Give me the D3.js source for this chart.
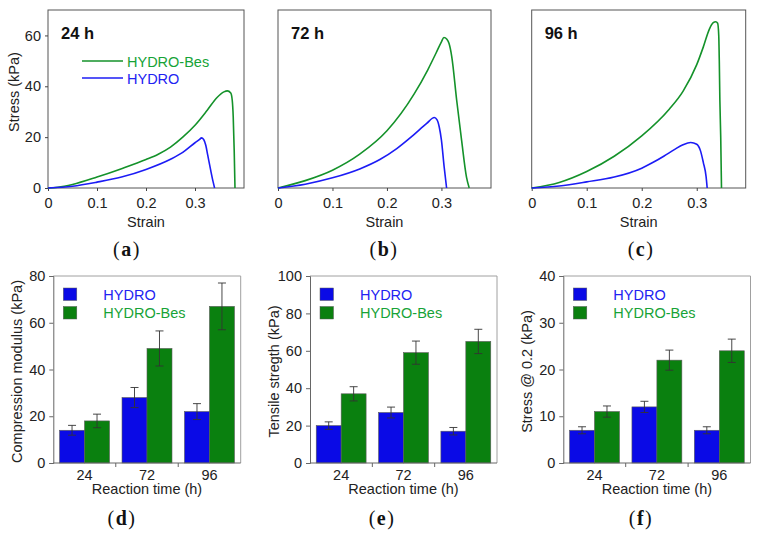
<!DOCTYPE html>
<html><head><meta charset="utf-8">
<script src="https://cdn.jsdelivr.net/npm/d3@7"></script>
<style>body{margin:0;background:#fff}svg{display:block}</style>
</head><body><svg id="c" width="758" height="534"></svg>
<script>
// ---------- data ----------
const seriesNames = ["HYDRO", "HYDRO-Bes"];
const strainTicks = [0, 0.1, 0.2, 0.3];
const stressTicks = [0, 20, 40, 60];

const strain24Bes = [0,0.02,0.05,0.1,0.15,0.2,0.225,0.25,0.275,0.3,0.325,0.345,0.359,0.366,0.373,0.376,0.378,0.38,0.3816];
const stress24Bes = [0,0.3,1.4,4.3,7.6,11.2,13.3,16.1,20,24.7,30.6,35.6,37.8,38.2,37.4,34.5,28,14.8,0];
const strain24Hydro = [0,0.05,0.1,0.15,0.2,0.25,0.275,0.3,0.31,0.313,0.318,0.322,0.326,0.332,0.337,0.34];
const stress24Hydro = [0,0.7,2.3,4.3,7.3,11.3,14,17.8,19.2,19.7,19,16.8,12.9,7,2.4,0];

const strain72Bes = [0,0.05,0.1,0.15,0.2,0.25,0.275,0.29,0.3,0.3046,0.31,0.314,0.319,0.328,0.337,0.346,0.351];
const stress72Bes = [0,2.9,7,13.3,22.5,37,46.5,53,57.5,59.2,58.5,56.8,51.6,34.5,18.8,4.3,0];
const strain72Hydro = [0,0.05,0.1,0.15,0.187,0.218,0.248,0.273,0.287,0.292,0.296,0.3,0.305,0.3095];
const stress72Hydro = [0,1.5,4,7.5,11.2,15.5,20.7,25.4,27.7,26.8,24,18.8,8.3,0];

const strain96Bes = [0,0.05,0.1,0.15,0.2,0.25,0.275,0.3,0.312,0.323,0.33,0.3345,0.338,0.34,0.341,0.342,0.3436,0.345];
const stress96Bes = [0,2.2,6.5,12.5,20.5,31,38,48.5,55.5,62.5,65,65.4,64.8,60,50,35,20,0];
const strain96Hydro = [0,0.05,0.1,0.15,0.2,0.22,0.24,0.26,0.275,0.289,0.3,0.307,0.312,0.317,0.319];
const stress96Hydro = [0,0.8,2.4,4.3,7.8,10,12.5,15.2,17,17.9,17.2,14.5,10,4.5,0];

const categories = ["24", "72", "96"];
const compHydro = [14, 28, 22], compHydroErr = [2.1, 4.3, 3.4];
const compBes = [18, 49, 67], compBesErr = [2.9, 7.5, 10];
const tensHydro = [20, 27, 17], tensHydroErr = [2, 2.9, 2];
const tensBes = [37, 59, 65], tensBesErr = [3.8, 6.2, 6.5];
const s02Hydro = [7, 12, 7], s02HydroErr = [0.75, 1.2, 0.75];
const s02Bes = [11, 22, 24], s02BesErr = [1.2, 2.15, 2.5];
const compTicks = [0, 20, 40, 60, 80];
const tensTicks = [0, 20, 40, 60, 80, 100];
const s02Ticks = [0, 10, 20, 30, 40];

// ---------- style ----------
const FONT = "'Liberation Sans', Arial, sans-serif";
const SERIF = "'Liberation Serif', 'Times New Roman', serif";
const FS = 14.5;
const GREEN_LINE = "#14922a", BLUE_LINE = "#1c1cf5";
const GREEN_BAR = "#0a800f", BLUE_BAR = "#0a0ae6";
const GREEN_TXT = "#17a337", BLUE_TXT = "#2222f2";
const svg = d3.select("#c");

function zip(xs, ys){ return xs.map((x,i)=>[x, ys[i]]); }

function curvePanel(o){
  const g = svg.append("g");
  const x = d3.scaleLinear().domain([0, o.xmax]).range([o.left, o.right]);
  const y = d3.scaleLinear().domain([0, 70]).range([188, 10]);
  g.append("rect").attr("x", o.left).attr("y", 10).attr("width", o.right-o.left).attr("height", 178)
    .attr("fill","none").attr("stroke","#555").attr("stroke-width",1);
  const xa = d3.axisBottom(x).tickValues(strainTicks).tickSize(3).tickFormat(d=>d===0?"0":d3.format(".1f")(d));
  const gx = g.append("g").attr("transform","translate(0,188)").call(xa);
  gx.select(".domain").remove();
  gx.selectAll("line").attr("stroke","#444");
  gx.selectAll("text").attr("font-family",FONT).attr("font-size",FS).attr("fill","#222").attr("y",20).attr("dy",0);
  if (o.yLabels){
    const ya = d3.axisLeft(y).tickValues(stressTicks).tickSize(3).tickPadding(4);
    const gy = g.append("g").attr("transform",`translate(${o.left},0)`).call(ya);
    gy.select(".domain").remove();
    gy.selectAll("line").attr("stroke","#444");
    gy.selectAll("text").attr("font-family",FONT).attr("font-size",FS).attr("fill","#222");
    g.append("text").attr("transform",`translate(${o.left-29},92) rotate(-90)`).attr("text-anchor","middle")
      .attr("font-family",FONT).attr("font-size",FS).attr("fill","#222").text("Stress (kPa)");
  }
  g.append("text").attr("x",(o.left+o.right)/2).attr("y",227).attr("text-anchor","middle")
    .attr("font-family",FONT).attr("font-size",FS).attr("fill","#222").text("Strain");
  g.append("text").attr("x",o.left+13).attr("y",38.5).attr("font-family",FONT).attr("font-weight","bold")
    .attr("font-size",16.5).attr("fill","#111").text(o.title);
  const line = d3.line().x(d=>x(d[0])).y(d=>y(d[1])).curve(d3.curveMonotoneX);
  g.append("path").datum(o.bes).attr("d",line).attr("fill","none").attr("stroke",GREEN_LINE).attr("stroke-width",1.6);
  g.append("path").datum(o.hydro).attr("d",line).attr("fill","none").attr("stroke",BLUE_LINE).attr("stroke-width",1.6);
  if (o.legend){
    g.append("line").attr("x1",82).attr("x2",123).attr("y1",61).attr("y2",61).attr("stroke",GREEN_LINE).attr("stroke-width",1.6);
    g.append("text").attr("x",127).attr("y",66.5).attr("font-family",FONT).attr("font-size",FS).attr("fill",GREEN_TXT).text(seriesNames[1]);
    g.append("line").attr("x1",82).attr("x2",123).attr("y1",78).attr("y2",78).attr("stroke",BLUE_LINE).attr("stroke-width",1.6);
    g.append("text").attr("x",127).attr("y",83.5).attr("font-family",FONT).attr("font-size",FS).attr("fill",BLUE_TXT).text(seriesNames[0]);
  }
  panelLabel(o.label, o.labelX, 256);
}

function panelLabel(letter, cx, by){
  const t = svg.append("text").attr("x",cx).attr("y",by).attr("text-anchor","middle")
    .attr("font-family",SERIF).attr("font-size",20).attr("fill","#111").attr("letter-spacing","1.5px");
  t.append("tspan").text("(");
  t.append("tspan").attr("font-weight","bold").text(letter);
  t.append("tspan").text(")");
}

function barPanel(o){
  const g = svg.append("g");
  const top = 276, bottom = 463;
  const x0 = d3.scaleBand().domain(categories).range([o.left, o.right]).paddingInner(0.2).paddingOuter(0.1);
  const x1 = d3.scaleBand().domain(seriesNames).range([0, x0.bandwidth()]);
  const y = d3.scaleLinear().domain([0, o.ticks[o.ticks.length-1]]).range([bottom, top]);
  g.append("path").attr("d",`M${o.left},${top}H${o.right}V${bottom}`).attr("fill","none").attr("stroke","#a0a0a0").attr("stroke-width",1);
  const data = categories.map((c,i)=>({c, vals:[
    {s:seriesNames[0], v:o.hydro[i], e:o.hydroErr[i], col:BLUE_BAR},
    {s:seriesNames[1], v:o.bes[i], e:o.besErr[i], col:GREEN_BAR}]}));
  const grp = g.selectAll("g.grp").data(data).join("g").attr("transform",d=>`translate(${x0(d.c)},0)`);
  grp.selectAll("rect").data(d=>d.vals).join("rect")
    .attr("x",d=>x1(d.s)).attr("y",d=>y(d.v)).attr("width",x1.bandwidth()).attr("height",d=>bottom-y(d.v))
    .attr("fill",d=>d.col).attr("stroke","#5a5a5a").attr("stroke-width",0.6);
  grp.selectAll("path.err").data(d=>d.vals).join("path").attr("class","err")
    .attr("d",d=>{const cx=x1(d.s)+x1.bandwidth()/2, a=y(d.v+d.e), b=y(d.v-d.e);
      return `M${cx-4},${a}H${cx+4}M${cx},${a}V${b}M${cx-4},${b}H${cx+4}`;})
    .attr("fill","none").attr("stroke","#333").attr("stroke-width",0.9);
  const ya = d3.axisLeft(y).tickValues(o.ticks).tickSize(4).tickPadding(4);
  const gy = g.append("g").attr("transform",`translate(${o.left},0)`).call(ya);
  gy.select(".domain").attr("stroke","#666");
  gy.selectAll("line").attr("stroke","#666");
  gy.selectAll("text").attr("font-family",FONT).attr("font-size",FS).attr("fill","#222");
  g.append("line").attr("x1",o.left).attr("x2",o.right).attr("y1",bottom).attr("y2",bottom).attr("stroke","#666");
  const step = x0.step();
  [1,2].forEach(k=>{ g.append("line").attr("x1",o.left+k*step).attr("x2",o.left+k*step)
      .attr("y1",bottom).attr("y2",bottom+4).attr("stroke","#666"); });
  g.selectAll("text.cat").data(categories).join("text").attr("class","cat")
    .attr("x",d=>x0(d)+x0.bandwidth()/2).attr("y",479.5).attr("text-anchor","middle")
    .attr("font-family",FONT).attr("font-size",FS).attr("fill","#222").text(d=>d);
  g.append("text").attr("x",(o.left+o.right)/2).attr("y",494).attr("text-anchor","middle")
    .attr("font-family",FONT).attr("font-size",FS).attr("fill","#222").text("Reaction time (h)");
  g.append("text").attr("transform",`translate(${o.left-31},${(top+bottom)/2+2}) rotate(-90)`).attr("text-anchor","middle")
    .attr("font-family",FONT).attr("font-size",FS).attr("fill","#222").text(o.ytitle);
  const lx = o.left+10;
  g.append("rect").attr("x",lx).attr("y",288).attr("width",13.5).attr("height",12.5).attr("fill",BLUE_BAR).attr("stroke","#5a5a5a").attr("stroke-width",0.5);
  g.append("rect").attr("x",lx).attr("y",306.5).attr("width",13.5).attr("height",12.5).attr("fill",GREEN_BAR).attr("stroke","#5a5a5a").attr("stroke-width",0.5);
  g.append("text").attr("x",o.left+50).attr("y",299.5).attr("font-family",FONT).attr("font-size",FS).attr("fill",BLUE_TXT).text(seriesNames[0]);
  g.append("text").attr("x",o.left+50).attr("y",318).attr("font-family",FONT).attr("font-size",FS).attr("fill",GREEN_TXT).text(seriesNames[1]);
  panelLabel(o.label, o.labelX, 525);
}

curvePanel({left:48, right:244, xmax:0.4, yLabels:true, legend:true, title:"24 h",
  bes:zip(strain24Bes,stress24Bes), hydro:zip(strain24Hydro,stress24Hydro), label:"a", labelX:127});
curvePanel({left:278, right:491, xmax:0.391, yLabels:false, legend:false, title:"72 h",
  bes:zip(strain72Bes,stress72Bes), hydro:zip(strain72Hydro,stress72Hydro), label:"b", labelX:384});
curvePanel({left:531.7, right:745.7, xmax:0.389, yLabels:false, legend:false, title:"96 h",
  bes:zip(strain96Bes,stress96Bes), hydro:zip(strain96Hydro,stress96Hydro), label:"c", labelX:641});

barPanel({left:53.3, right:240.7, ticks:compTicks, hydro:compHydro, hydroErr:compHydroErr, bes:compBes, besErr:compBesErr,
  ytitle:"Compression modulus (kPa)", label:"d", labelX:122});
barPanel({left:310, right:497, ticks:tensTicks, hydro:tensHydro, hydroErr:tensHydroErr, bes:tensBes, besErr:tensBesErr,
  ytitle:"Tensile stregth (kPa)", label:"e", labelX:382});
barPanel({left:563.3, right:750.5, ticks:s02Ticks, hydro:s02Hydro, hydroErr:s02HydroErr, bes:s02Bes, besErr:s02BesErr,
  ytitle:"Stress @ 0.2 (kPa)", label:"f", labelX:641});
</script></body></html>
